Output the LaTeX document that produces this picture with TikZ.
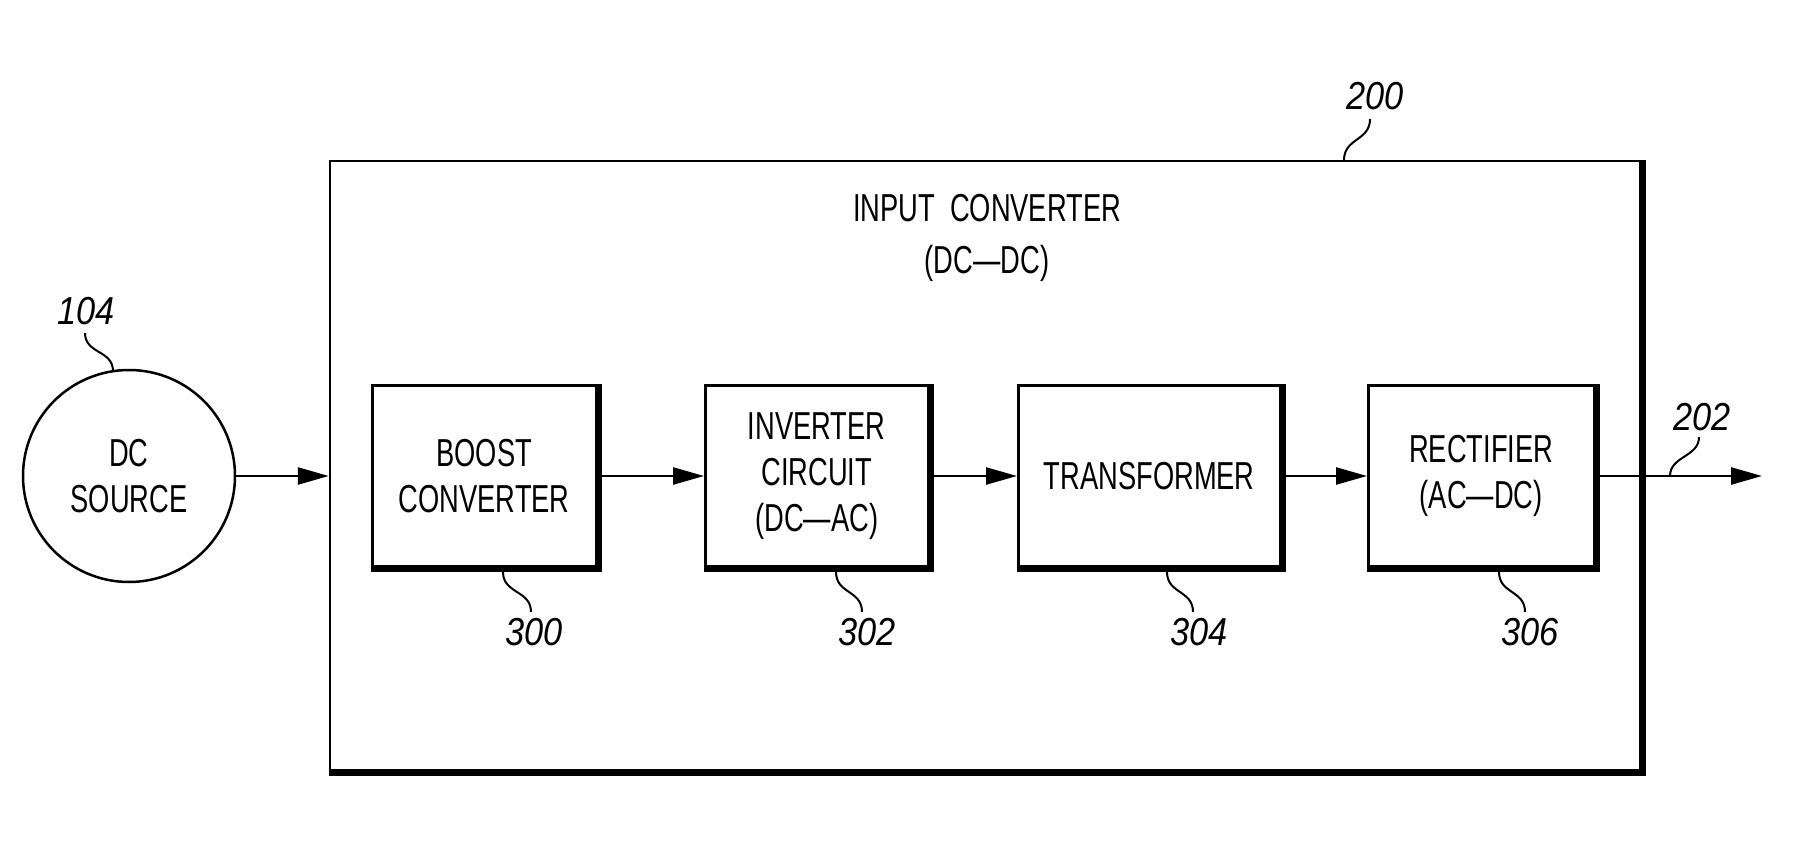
\documentclass[tikz,border=0pt]{standalone}
\usepackage{fontspec}
\setmainfont{Liberation Sans}[FakeStretch=0.70]
\newfontfamily\numfont{Liberation Sans}[FakeStretch=0.88]
\usetikzlibrary{arrows.meta}
\begin{document}
\begin{tikzpicture}[x=1pt,y=-1pt,
  txt/.style={font=\fontsize{39}{46}\selectfont, align=center, inner sep=0pt},
  num/.style={font=\numfont\itshape\fontsize{39}{46}\selectfont, inner sep=0pt, anchor=base},
  blk/.style={draw, line width=2.5pt, minimum height=181pt, inner sep=0pt, txt},
  arr/.style={line width=2.5pt, -{Triangle[length=31pt,width=17pt]}},
  lead/.style={line width=2pt},
  shadowline/.style={line width=7pt}
]
\useasboundingbox (0,0) rectangle (1803,858);
% outer box
\node[draw, line width=2.5pt, minimum width=1310pt, minimum height=609pt, inner sep=0pt] (big) at (985,465.5) {};
\node[txt, anchor=base] (t1) at (987,222) {INPUT\ \ CONVERTER};
\node[txt, anchor=base] (t2) at (987,274) {(DC---DC)};
% source and blocks
\node[draw, circle, line width=2.5pt, minimum size=212pt, txt] (c) at (129,476) {DC\\SOURCE};
\node[blk, minimum width=224pt] (b1) at (484.25,476) {BOOST\\CONVERTER};
\node[blk, minimum width=223pt] (b2) at (816.75,476) {INVERTER\\CIRCUIT\\(DC---AC)};
\node[blk, minimum width=262pt] (b3) at (1149.25,476) {TRANSFORMER};
\node[blk, minimum width=226pt] (b4) at (1481.25,476) {RECTIFIER\\(AC---DC)};
% shadow edges
\foreach \n in {big,b1,b2,b3,b4}
  \draw[shadowline] ([xshift=1pt]\n.north east) -- ([xshift=1pt,yshift=-1pt]\n.south east) -- ([yshift=-1pt]\n.south west);
% connectors
\coordinate (out) at (1762,476);
\draw[arr] (c.east) -- (c.east -| big.west);
\draw[arr] (b1.east) -- (b2.west);
\draw[arr] (b2.east) -- (b3.west);
\draw[arr] (b3.east) -- (b4.west);
\draw[arr] (b4.east) -- (out);
% reference numerals
\node[num] (l104) at (86,325) {104};
\node[num] (l200) at (1375,110) {200};
\node[num] (l300) at (534,645) {300};
\node[num] (l302) at (867,645) {302};
\node[num] (l304) at (1199,645) {304};
\node[num] (l306) at (1530,645) {306};
\node[num] (l202) at (1702,430) {202};
% leader end points
\coordinate (a104) at (85,333);   \coordinate (e104) at (113,371);
\coordinate (a200) at (1370,119); \coordinate (e200) at (1344,160);
\coordinate (a300) at (531,612);  \coordinate (e300) at (503,572);
\coordinate (a302) at (862,612);  \coordinate (e302) at (836,572);
\coordinate (a304) at (1193,612); \coordinate (e304) at (1167,572);
\coordinate (a306) at (1525,612); \coordinate (e306) at (1499,572);
\coordinate (a202) at (1699,437); \coordinate (e202) at (1670,476);
% leaders
\draw[lead] (a104) .. controls (85,354) and (113,350) .. (e104);
\draw[lead] (a200) .. controls (1370,141) and (1344,138) .. (e200);
\draw[lead] (a300) .. controls (531,590) and (503,594) .. (e300);
\draw[lead] (a302) .. controls (862,590) and (836,594) .. (e302);
\draw[lead] (a304) .. controls (1193,590) and (1167,594) .. (e304);
\draw[lead] (a306) .. controls (1525,590) and (1499,594) .. (e306);
\draw[lead] (a202) .. controls (1699,457) and (1670,456) .. (e202);
\end{tikzpicture}
\end{document}
